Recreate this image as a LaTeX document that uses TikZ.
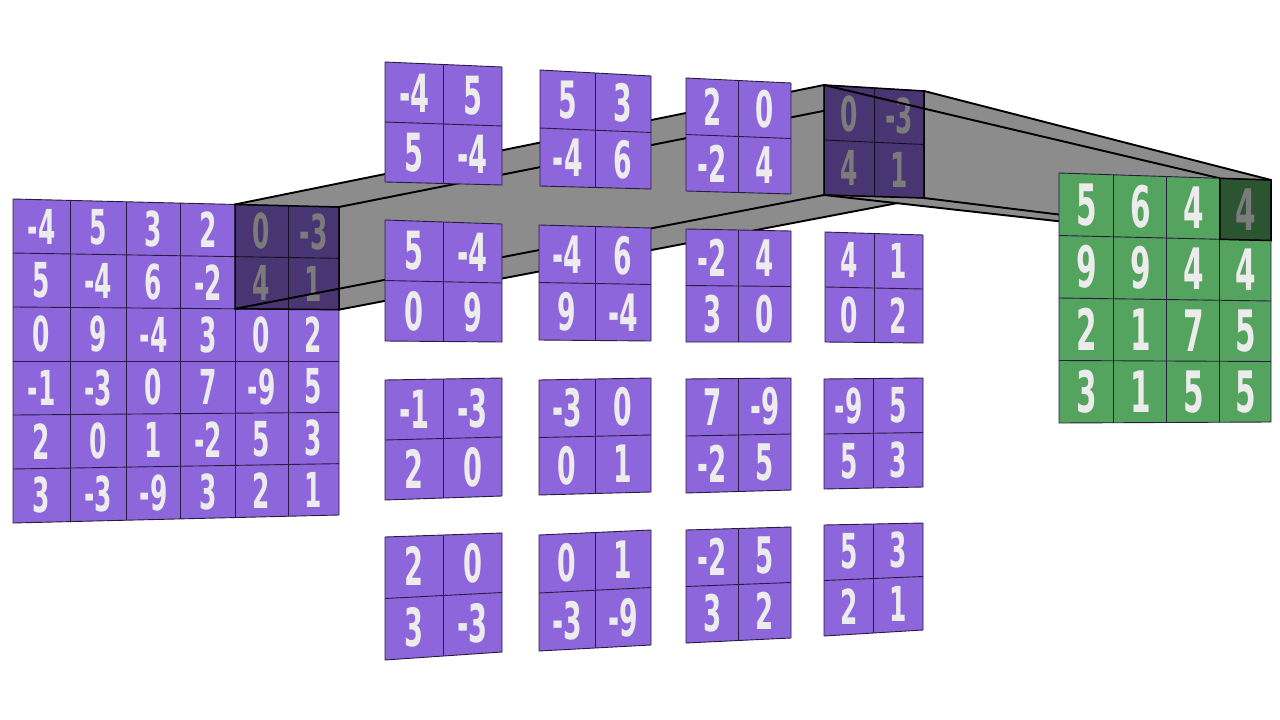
\documentclass[tikz,border=0pt]{standalone}
\usepackage{fontspec}
\usepackage{graphicx}
\setmainfont{DejaVu Sans}
\usetikzlibrary{calc}
\definecolor{purp}{RGB}{141,102,220}
\definecolor{grn}{RGB}{84,163,94}
\definecolor{prismgray}{RGB}{140,140,140}
\definecolor{gline}{RGB}{40,28,64}
\definecolor{digit}{RGB}{236,236,236}
\tikzset{
  gridline/.style={draw=gline, line width=0.9pt},
  num/.style={text=digit, inner sep=0pt},
  edge/.style={draw=black, line width=1.9pt, line cap=round},
  darkcell/.style={fill=black, fill opacity=0.48},
  darkborder/.style={draw=black, line width=1.5pt},
}
\newcommand\setquad[9]{%
  \coordinate (#1tl) at (#2,#3);
  \coordinate (#1tr) at (#4,#5);
  \coordinate (#1br) at (#6,#7);
  \coordinate (#1bl) at (#8,#9);
}
\newcommand\mkcoords[3]{%
  \foreach \u [count=\i from 0] in {#2} {
    \foreach \v [count=\j from 0] in {#3} {
      \coordinate (#1-\i-\j) at ($($(#1tl)!\u!(#1tr)$)!\v!($(#1bl)!\u!(#1br)$)$);
    }
  }
}
\newcommand\drawgrid[5]{% name, n, fill, fontsize, values
  \fill[#3] (#1tl) -- (#1tr) -- (#1br) -- (#1bl) -- cycle;
  \pgfmathtruncatemacro\gn{#2}
  \pgfmathtruncatemacro\gm{#2-1}
  \foreach \i in {1,...,\gm} {
    \draw[gridline] (#1-\i-0) -- (#1-\i-\gn);
    \draw[gridline] (#1-0-\i) -- (#1-\gn-\i);
  }
  \draw[gridline] (#1tl) -- (#1tr) -- (#1br) -- (#1bl) -- cycle;
  \foreach \val [count=\k from 0] in {#5} {
    \pgfmathtruncatemacro\ci{mod(\k,#2)}
    \pgfmathtruncatemacro\cj{floor(\k/#2)}
    \pgfmathtruncatemacro\cii{\ci+1}
    \pgfmathtruncatemacro\cjj{\cj+1}
    \node[num, font=\fontsize{#4}{#4}\selectfont\bfseries] (#1-t\k) at ($(#1-\ci-\cj)!0.5!(#1-\cii-\cjj)$) {\scalebox{0.58}[1.12]{\val}};
  }
}
\newcommand\win[3]{% name, fontsize, values
  \mkcoords{#1}{0,0.5,1}{0,0.5,1}
  \drawgrid{#1}{2}{purp}{#2}{#3}
}
\begin{document}
\begin{tikzpicture}[x=1pt,y=-1pt]
\useasboundingbox (0,0) rectangle (1280,720);
\fill[white] (0,0) rectangle (1280,720);
% corner coordinates
\setquad{In}{13}{199}{339}{207}{339}{515}{13}{523}
\setquad{Out}{1059}{173}{1271}{180}{1271}{422}{1059}{423}
\setquad{W00}{385}{62}{502}{67}{502}{185}{385}{182}
\setquad{W01}{540}{70}{651}{76}{651}{189}{540}{186}
\setquad{W02}{686}{78}{791}{83}{791}{194}{686}{191}
\setquad{W03}{824}{85}{924}{91}{924}{198}{824}{195}
\setquad{W10}{385}{220}{502}{224}{502}{342}{385}{341}
\setquad{W11}{539}{225}{651}{228}{651}{341}{539}{340}
\setquad{W12}{686}{229}{791}{231}{791}{342}{686}{342}
\setquad{W13}{825}{232}{923}{235}{923}{343}{825}{342}
\setquad{W20}{385}{380}{502}{378}{502}{496}{385}{500}
\setquad{W21}{539}{380}{651}{378}{651}{492}{539}{495}
\setquad{W22}{686}{379}{791}{378}{791}{490}{686}{493}
\setquad{W23}{824}{379}{923}{378}{923}{487}{824}{489}
\setquad{W30}{385}{537}{502}{533}{502}{652}{385}{660}
\setquad{W31}{539}{535}{651}{530}{651}{645}{539}{651}
\setquad{W32}{686}{530}{791}{527}{791}{638}{686}{643}
\setquad{W33}{824}{525}{923}{523}{923}{630}{824}{636}
\mkcoords{In}{0,0.175,0.347,0.515,0.681,0.844,1}{0,0.1667,0.3333,0.5,0.6667,0.8333,1}
\mkcoords{Out}{0,0.259,0.509,0.759,1}{0,0.25,0.5,0.75,1}
% input grid
\drawgrid{In}{6}{purp}{43}{-4,5,3,2,0,-3,5,-4,6,-2,4,1,0,9,-4,3,0,2,-1,-3,0,7,-9,5,2,0,1,-2,5,3,3,-3,-9,3,2,1}
% prism 1
\fill[prismgray] (In-4-0) -- (W03tl) -- (W03tr) -- (W03br) -- (In-6-2) -- (In-6-0) -- cycle;
\fill[darkcell] (In-4-0) -- (In-6-0) -- (In-6-2) -- (In-4-2) -- cycle;
\draw[darkborder] (In-4-0) -- (In-6-0) -- (In-6-2) -- (In-4-2) -- cycle;
\draw[edge] (In-4-0) -- (W03tl);
\draw[edge] (In-6-0) -- (W03tr);
\draw[edge] (In-6-2) -- (W03br);
\draw[edge] (In-4-2) -- (W03bl);
% prism 2
\fill[prismgray] (W03tr) -- (Out-4-0) -- (Out-4-1) -- (Out-3-1) -- (W03bl) -- (W03br) -- cycle;
% pooling windows
\win{W00}{47}{-4,5,5,-4}
\win{W01}{46}{5,3,-4,6}
\win{W02}{45}{2,0,-2,4}
\win{W03}{43}{0,-3,4,1}
\win{W10}{47}{5,-4,0,9}
\win{W11}{46}{-4,6,9,-4}
\win{W12}{45}{-2,4,3,0}
\win{W13}{43}{4,1,0,2}
\win{W20}{47}{-1,-3,2,0}
\win{W21}{46}{-3,0,0,1}
\win{W22}{45}{7,-9,-2,5}
\win{W23}{43}{-9,5,5,3}
\win{W30}{47}{2,0,3,-3}
\win{W31}{46}{0,1,-3,-9}
\win{W32}{45}{-2,5,3,2}
\win{W33}{43}{5,3,2,1}
\fill[darkcell] (W03tl) -- (W03tr) -- (W03br) -- (W03bl) -- cycle;
\draw[darkborder] (W03tl) -- (W03tr) -- (W03br) -- (W03bl) -- cycle;
\draw[edge] (W03tl) -- (Out-3-0);
\draw[edge] (W03tr) -- (Out-4-0);
\draw[edge] (W03br) -- (Out-4-1);
\draw[edge] (W03bl) -- (Out-3-1);
% output grid
\drawgrid{Out}{4}{grn}{51}{5,6,4,4,9,9,4,4,2,1,7,5,3,1,5,5}
\fill[darkcell] (Out-3-0) -- (Out-4-0) -- (Out-4-1) -- (Out-3-1) -- cycle;
\draw[darkborder] (Out-3-0) -- (Out-4-0) -- (Out-4-1) -- (Out-3-1) -- cycle;
\end{tikzpicture}
\end{document}
